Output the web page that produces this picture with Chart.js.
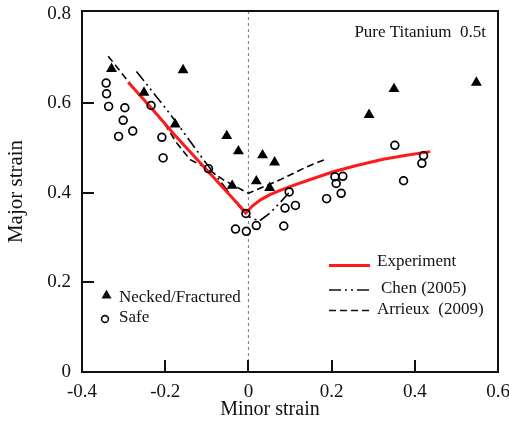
<!DOCTYPE html>
<html>
<head>
<meta charset="utf-8">
<script src="https://cdn.jsdelivr.net/npm/chart.js@4.4.0/dist/chart.umd.min.js"></script>
<style>
  html, body { margin: 0; padding: 0; background: #fff; }
  #wrap { width: 509px; height: 428px; }
</style>
</head>
<body>
<div id="wrap"><canvas id="flc" width="509" height="428"></canvas></div>
<script>
// axis ticks
const xTicks = [-0.4, -0.2, 0, 0.2, 0.4, 0.6];
const yTicks = [0, 0.2, 0.4, 0.6, 0.8];

// measured points
const neckedX = [-0.329, -0.251, -0.157, -0.176, -0.052, -0.024, -0.039, 0.019, 0.034, 0.063, 0.051, 0.290, 0.350, 0.548];
const neckedY = [0.677, 0.624, 0.674, 0.553, 0.527, 0.493, 0.416, 0.426, 0.484, 0.468, 0.411, 0.574, 0.632, 0.646];

const safeX = [-0.342, -0.341, -0.336, -0.297, -0.301, -0.312, -0.278, -0.234, -0.208, -0.205, -0.096,
               -0.006, -0.031, -0.005, 0.019, 0.085, 0.088, 0.113, 0.098, 0.188, 0.208, 0.227, 0.211, 0.223,
               0.352, 0.373, 0.417, 0.421];
const safeY = [0.645, 0.621, 0.593, 0.590, 0.562, 0.526, 0.538, 0.595, 0.524, 0.478, 0.454,
               0.354, 0.319, 0.314, 0.327, 0.326, 0.366, 0.372, 0.402, 0.387, 0.436, 0.437, 0.421, 0.399,
               0.506, 0.427, 0.466, 0.483];

// FLC curves
const expX = [-0.289, -0.229, -0.181, -0.100, -0.019, -0.006, 0.010, 0.030, 0.052, 0.075, 0.100, 0.140, 0.204, 0.260, 0.324, 0.380, 0.437];
const expY = [0.647, 0.585, 0.533, 0.451, 0.369, 0.355, 0.371, 0.385, 0.396, 0.405, 0.414, 0.427, 0.447, 0.461, 0.475, 0.484, 0.492];

const chenX = [-0.269, -0.200, -0.164, -0.108, -0.052, -0.028, 0.0, 0.026, 0.052, 0.075, 0.098];
const chenY = [0.671, 0.590, 0.546, 0.474, 0.407, 0.375, 0.347, 0.337, 0.355, 0.377, 0.401];

const arrX = [-0.337, -0.289, -0.200, -0.172, -0.140, -0.100, -0.060, 0.0, 0.076, 0.140, 0.188];
const arrY = [0.705, 0.649, 0.552, 0.511, 0.474, 0.455, 0.429, 0.399, 0.429, 0.458, 0.476];

const pts = (xs, ys) => xs.map((x, i) => ({ x: x, y: ys[i] }));

const SERIF = '"Liberation Serif", "Times New Roman", serif';
const INK = '#111';
const CHEN_DASH = [12, 4, 2, 4, 2, 4];
const ARR_DASH = [7, 4];

const decor = {
  id: 'decor',
  beforeDatasetsDraw(chart) {
    const { ctx, chartArea: a, scales: { x } } = chart;
    const x0 = x.getPixelForValue(0);
    ctx.save();
    ctx.strokeStyle = '#777';
    ctx.lineWidth = 1;
    ctx.setLineDash([3, 3]);
    ctx.beginPath();
    ctx.moveTo(x0, a.top);
    ctx.lineTo(x0, a.bottom);
    ctx.stroke();
    ctx.restore();
  },
  afterDraw(chart) {
    const { ctx, chartArea: a, scales } = chart;
    const sx = scales.x, sy = scales.y;
    ctx.save();
    ctx.setLineDash([]);
    // frame
    ctx.strokeStyle = INK;
    ctx.lineWidth = 2;
    ctx.strokeRect(a.left, a.top, a.right - a.left, a.bottom - a.top);
    // inward tick marks
    for (const v of xTicks.slice(1, -1)) {
      const px = Math.round(sx.getPixelForValue(v));
      ctx.beginPath();
      ctx.moveTo(px, a.bottom);
      ctx.lineTo(px, a.bottom - 12);
      ctx.stroke();
    }
    for (const v of yTicks.slice(1, -1)) {
      const py = Math.round(sy.getPixelForValue(v));
      ctx.beginPath();
      ctx.moveTo(a.left, py);
      ctx.lineTo(a.left + 12, py);
      ctx.stroke();
    }

    ctx.fillStyle = INK;
    ctx.textBaseline = 'middle';
    // x title
    ctx.font = '20px ' + SERIF;
    ctx.textAlign = 'center';
    ctx.fillText('Minor strain', 270, 410);
    // material label
    ctx.font = '17px ' + SERIF;
    ctx.textAlign = 'right';
    ctx.fillText('Pure Titanium  0.5t', 486, 33);

    // marker legend
    ctx.textAlign = 'left';
    ctx.beginPath();
    ctx.moveTo(106.5, 289.5);
    ctx.lineTo(111.5, 298.5);
    ctx.lineTo(101.5, 298.5);
    ctx.closePath();
    ctx.fill();
    ctx.fillText('Necked/Fractured', 119, 298);
    ctx.lineWidth = 1.6;
    ctx.beginPath();
    ctx.arc(105, 319, 3.4, 0, Math.PI * 2);
    ctx.stroke();
    ctx.fillText('Safe', 119, 318);

    // curve legend
    const seg = (yy, color, w, dash) => {
      ctx.strokeStyle = color;
      ctx.lineWidth = w;
      ctx.setLineDash(dash);
      ctx.beginPath();
      ctx.moveTo(329, yy);
      ctx.lineTo(370, yy);
      ctx.stroke();
    };
    seg(265.5, '#ff1a1a', 3, []);
    seg(290, INK, 1.6, CHEN_DASH);
    seg(310.5, INK, 1.6, ARR_DASH);
    ctx.setLineDash([]);
    ctx.fillText('Experiment', 377, 262);
    ctx.fillText('Chen (2005)', 381, 289);
    ctx.fillText('Arrieux  (2009)', 377, 310);
    ctx.restore();
  }
};

new Chart(document.getElementById('flc'), {
  type: 'scatter',
  data: {
    datasets: [
      {
        label: 'Necked/Fractured',
        data: pts(neckedX, neckedY),
        pointStyle: 'triangle',
        pointRadius: 6.3,
        backgroundColor: '#000',
        borderColor: '#000',
        borderWidth: 0
      },
      {
        label: 'Safe',
        data: pts(safeX, safeY),
        pointStyle: 'circle',
        pointRadius: 3.9,
        backgroundColor: 'rgba(0,0,0,0)',
        borderColor: '#000',
        borderWidth: 1.7
      },
      {
        label: 'Experiment',
        data: pts(expX, expY),
        showLine: true,
        pointRadius: 0,
        borderColor: '#ff1a1a',
        borderWidth: 3,
        tension: 0
      },
      {
        label: 'Chen (2005)',
        data: pts(chenX, chenY),
        showLine: true,
        pointRadius: 0,
        borderColor: '#000',
        borderWidth: 1.6,
        borderDash: CHEN_DASH
      },
      {
        label: 'Arrieux (2009)',
        data: pts(arrX, arrY),
        showLine: true,
        pointRadius: 0,
        borderColor: '#000',
        borderWidth: 1.6,
        borderDash: ARR_DASH
      }
    ]
  },
  options: {
    responsive: false,
    animation: false,
    devicePixelRatio: 1,
    layout: { padding: { left: 0, right: 11, top: 11, bottom: 0 } },
    plugins: {
      legend: { display: false },
      tooltip: { enabled: false }
    },
    scales: {
      x: {
        type: 'linear',
        min: -0.4,
        max: 0.6,
        afterFit: s => { s.height = 56; s.paddingLeft = 0; s.paddingRight = 0; },
        afterBuildTicks: s => { s.ticks = xTicks.map(v => ({ value: v })); },
        grid: { display: false, drawTicks: false, tickLength: 0 },
        border: { display: false },
        ticks: {
          padding: 9,
          color: INK,
          maxRotation: 0,
          font: { family: SERIF, size: 19 },
          callback: v => (v === 0 ? '0' : v.toFixed(1))
        }
      },
      y: {
        type: 'linear',
        min: 0,
        max: 0.806,
        afterFit: s => { s.width = 82; s.paddingTop = 0; s.paddingBottom = 0; },
        afterBuildTicks: s => { s.ticks = yTicks.map(v => ({ value: v })); },
        grid: { display: false, drawTicks: false, tickLength: 0 },
        border: { display: false },
        ticks: {
          padding: 11,
          color: INK,
          font: { family: SERIF, size: 19 },
          callback: v => (v === 0 ? '0' : v.toFixed(1))
        },
        title: {
          display: true,
          text: 'Major strain',
          color: INK,
          font: { family: SERIF, size: 21 },
          padding: { top: 4, bottom: 0 }
        }
      }
    }
  },
  plugins: [decor]
});
</script>
</body>
</html>
